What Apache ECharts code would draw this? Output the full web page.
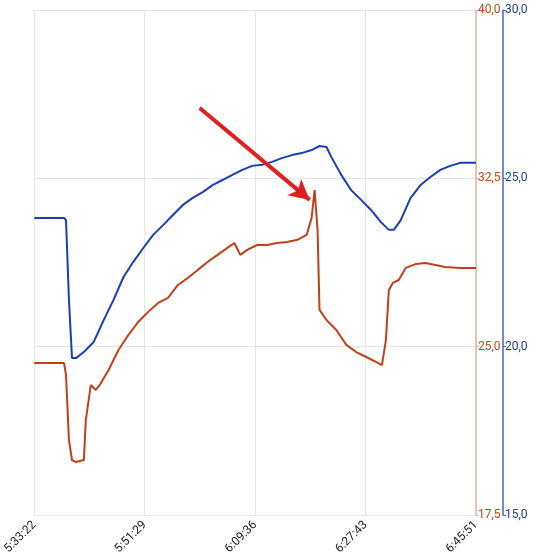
<!doctype html>
<html>
<head>
<meta charset="utf-8">
<script src="https://cdn.jsdelivr.net/npm/echarts@6/dist/echarts.min.js"></script>
<style>html,body{margin:0;background:#fff}#c{width:540px;height:558px}</style>
</head>
<body>
<div id="c"></div>
<script>
// seconds since 5:33:22
var xLabels = ['5:33:22', '5:51:29', '6:09:36', '6:27:43', '6:45:51'];
var blueT = [0,293,312,341,371,410,488,585,683,780,878,975,1073,1170,1268,1365,1463,1560,1658,1755,1853,1950,2048,2145,2243,2340,2438,2535,2633,2730,2808,2877,2925,3023,3120,3218,3315,3413,3491,3540,3608,3705,3803,3900,3998,4095,4193,4349];
var blueV = [23.82,23.82,23.76,21.39,19.66,19.66,19.84,20.14,20.79,21.39,22.07,22.52,22.93,23.32,23.61,23.91,24.21,24.42,24.59,24.80,24.95,25.10,25.25,25.37,25.40,25.49,25.60,25.69,25.75,25.84,25.96,25.93,25.63,25.10,24.65,24.36,24.06,23.70,23.47,23.47,23.76,24.42,24.80,25.04,25.25,25.37,25.46,25.46];
var orangeT = [0,293,312,341,371,410,488,507,556,605,644,731,829,926,1024,1121,1219,1316,1414,1511,1609,1706,1804,1901,1970,2028,2096,2194,2291,2389,2487,2584,2682,2730,2760,2789,2808,2877,2974,3072,3169,3267,3364,3423,3462,3491,3530,3588,3657,3754,3852,3949,4047,4193,4349];
var orangeV = [24.27,24.27,23.74,20.84,19.95,19.86,19.95,21.73,23.29,23.07,23.29,23.96,24.85,25.52,26.10,26.55,26.95,27.17,27.75,28.06,28.42,28.77,29.09,29.40,29.62,29.09,29.31,29.53,29.53,29.62,29.66,29.75,29.98,30.73,31.98,30.20,26.64,26.19,25.74,25.08,24.76,24.54,24.32,24.18,25.30,27.53,27.84,27.97,28.51,28.68,28.73,28.64,28.55,28.51,28.51];
var arrowFrom = [1628, 35.63], arrowTo = [2711, 31.54];

function pair(t, v){ return t.map(function(x,i){ return [x, v[i]]; }); }
function comma(v){ return v.toFixed(1).replace('.', ','); }

var chart = echarts.init(document.getElementById('c'));
chart.setOption({
  animation: false,
  grid: {left: 30, right: 64, top: 10, bottom: 43},
  xAxis: {
    type: 'value', min: 0, max: 4349, interval: 1087.25,
    axisLine: {show: false}, axisTick: {show: false},
    splitLine: {lineStyle: {color: '#e6e6e6'}},
    axisLabel: {rotate: 45, formatter: function(v){ return xLabels[Math.round(v / 1087.25)]; },
      color: '#222', fontFamily: 'Roboto', fontSize: 12, margin: 8, showMaxLabel: true, showMinLabel: true}
  },
  yAxis: [
    {type: 'value', position: 'right', min: 17.5, max: 40, interval: 7.5,
     axisLine: {show: true, onZero: false, lineStyle: {color: '#dcb9a5', width: 1.5}},
     axisTick: {show: true, length: 3, lineStyle: {color: '#dcb9a5'}},
     splitLine: {lineStyle: {color: '#e6e6e6'}},
     axisLabel: {formatter: comma, color: '#c0461e', fontFamily: 'Roboto', fontSize: 12, margin: 2}},
    {type: 'value', position: 'right', offset: 27, min: 15, max: 30, interval: 5,
     axisLine: {show: true, onZero: false, lineStyle: {color: '#4a64ad', width: 1.5}},
     axisTick: {show: true, length: 3, lineStyle: {color: '#4a64ad'}},
     splitLine: {show: false},
     axisLabel: {formatter: comma, color: '#233c86', fontFamily: 'Roboto', fontSize: 12, margin: 2}}
  ],
  series: [
    {type: 'line', yAxisIndex: 1, data: pair(blueT, blueV), showSymbol: false,
     lineStyle: {color: '#1a3eb0', width: 2}},
    {type: 'line', yAxisIndex: 0, data: pair(orangeT, orangeV), showSymbol: false,
     lineStyle: {color: '#c0401a', width: 2},
     markLine: {silent: true, symbol: ['none', 'arrow'], symbolSize: [16, 20],
       label: {show: false},
       lineStyle: {color: '#e02020', width: 4, type: 'solid'},
       data: [[{coord: arrowFrom}, {coord: arrowTo}]]}}
  ]
});
</script>
</body>
</html>
